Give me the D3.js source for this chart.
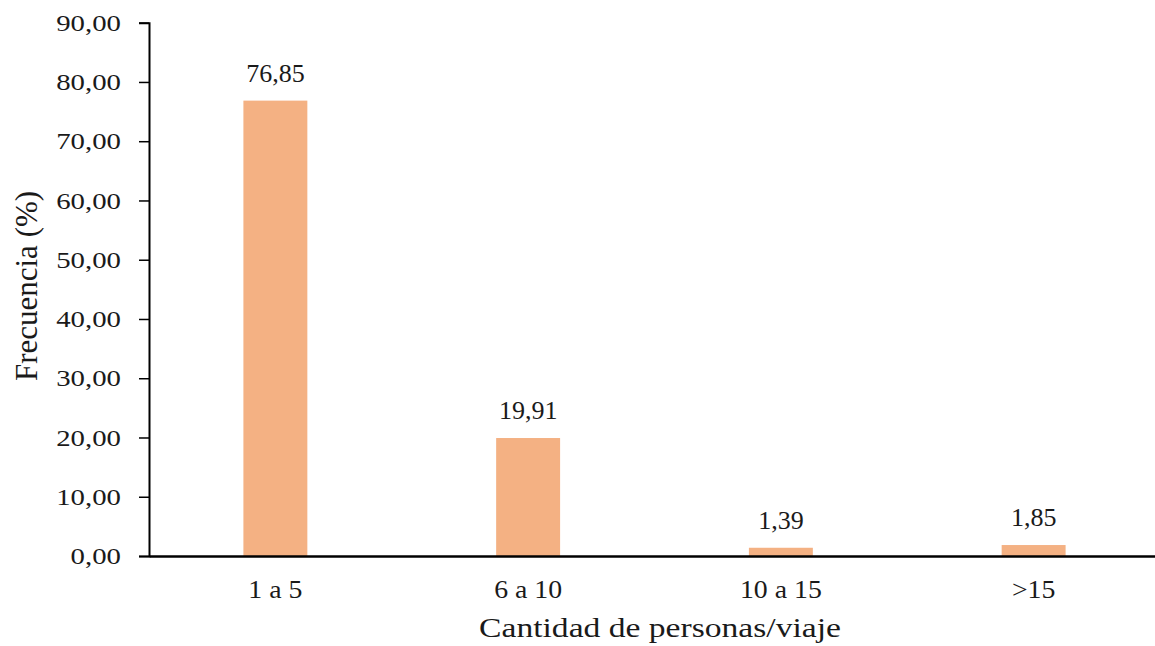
<!DOCTYPE html>
<html><head><meta charset="utf-8">
<script src="https://cdn.jsdelivr.net/npm/d3@7"></script>
<style>body{margin:0;background:#fff}svg{display:block}text{font-family:"Liberation Serif","Times New Roman",serif;fill:#1a1a1a}</style>
</head><body><svg id="c" width="1155" height="646"></svg>
<script>
const categories = ["1 a 5", "6 a 10", "10 a 15", ">15"];
const values = [76.85, 19.91, 1.39, 1.85];
const yTicks = [0, 10, 20, 30, 40, 50, 60, 70, 80, 90];
const fmt = v => v.toFixed(2).replace(".", ",");

(function () {
const svg = d3.select("#c");
const mLeft = 149, mRight = 1160, mTop = 22.7, mBottom = 556;
const x = d3.scaleBand().domain(categories).range([mLeft, mRight]).padding(0);
const y = d3.scaleLinear().domain([0, 90]).range([mBottom, mTop]);
const bw = x.step() * 0.253;
const cx = i => x(categories[i]) + x.bandwidth() / 2;

svg.selectAll("rect.bar").data(values).enter().append("rect")
  .attr("x", (d, i) => cx(i) - bw / 2)
  .attr("y", d => y(d)).attr("width", bw).attr("height", d => y(0) - y(d))
  .attr("fill", "#F4B183");

svg.selectAll("text.val").data(values).enter().append("text")
  .attr("x", (d, i) => cx(i))
  .attr("y", d => y(d) - 19).attr("text-anchor", "middle")
  .style("font-size", "26px").text(d => fmt(d));

const ya = svg.append("g").attr("transform", `translate(${mLeft},0)`)
  .call(d3.axisLeft(y).tickValues(yTicks).tickFormat(fmt).tickSize(10));
ya.select(".domain").attr("stroke", "#000").attr("stroke-width", 2);
ya.selectAll(".tick line").attr("stroke", "#000").attr("stroke-width", 1.5);
ya.selectAll(".tick text").style("font-size", "24px").attr("fill", "#1a1a1a")
  .attr("x", -28 / 1.2).attr("transform", "scale(1.2,1)");

const xa = svg.append("g").attr("transform", `translate(0,${mBottom})`)
  .call(d3.axisBottom(x).tickSize(0));
xa.select(".domain").attr("stroke", "#000").attr("stroke-width", 2.5);
xa.selectAll(".tick text").style("font-size", "26px").attr("fill", "#1a1a1a")
  .attr("y", 42).attr("dy", null).attr("transform", "scale(1.07,1)");

svg.append("text").attr("transform", "translate(660,637) scale(1.2,1)").attr("text-anchor", "middle")
  .style("font-size", "28px").text("Cantidad de personas/viaje");
svg.append("text").attr("transform", "translate(37,286) rotate(-90)").attr("text-anchor", "middle")
  .style("font-size", "31px").text("Frecuencia (%)");
})();
</script></body></html>
